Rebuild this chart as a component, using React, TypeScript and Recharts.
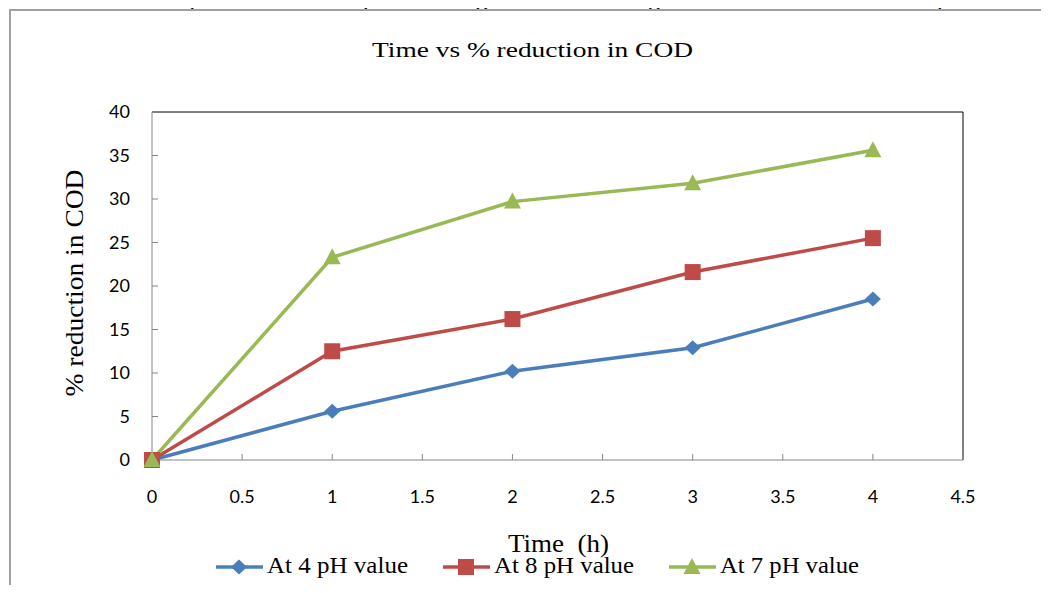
import React from "react";
import {
  LineChart,
  Line,
  XAxis,
  YAxis,
  ReferenceLine,
  Legend,
  Label,
} from "recharts";

const times = [0, 1, 2, 3, 4];
const ph4 = [0, 5.6, 10.2, 12.9, 18.5];
const ph8 = [0, 12.5, 16.2, 21.6, 25.5];
const ph7 = [0, 23.3, 29.7, 31.8, 35.6];
const xTicks = [0, 0.5, 1, 1.5, 2, 2.5, 3, 3.5, 4, 4.5];
const yTicks = [0, 5, 10, 15, 20, 25, 30, 35, 40];

const data = times.map((t, i) => ({ t, ph4: ph4[i], ph8: ph8[i], ph7: ph7[i] }));

const serif = "'Liberation Serif', 'DejaVu Serif', 'Noto Serif', 'Times New Roman', serif";
const sans = "Lato, 'Open Sans', sans-serif";

const BLUE = "#4a7ebb";
const RED = "#be4b48";
const GREEN = "#98b954";

const Diamond = (p: any) => {
  const { cx, cy, fill } = p;
  if (cx == null || cy == null) return null;
  return <polygon points={`${cx},${cy - 7.5} ${cx + 8},${cy} ${cx},${cy + 7.5} ${cx - 8},${cy}`} fill={fill} />;
};
const Square = (p: any) => {
  const { cx, cy, fill } = p;
  if (cx == null || cy == null) return null;
  return <rect x={cx - 8} y={cy - 8} width={16} height={16} fill={fill} />;
};
const Triangle = (p: any) => {
  const { cx, cy, fill } = p;
  if (cx == null || cy == null) return null;
  return <polygon points={`${cx},${cy - 9} ${cx + 8.5},${cy + 7} ${cx - 8.5},${cy + 7}`} fill={fill} />;
};

const legendItems = [
  { label: "At 4 pH value", color: BLUE, Shape: Diamond, x: 216, w: 141 },
  { label: "At 8 pH value", color: RED, Shape: Square, x: 443, w: 140 },
  { label: "At 7 pH value", color: GREEN, Shape: Triangle, x: 669, w: 139 },
];

const renderLegend = () => (
  <svg width={1049} height={30} style={{ display: "block" }}>
    {legendItems.map((it) => (
      <g key={it.label}>
        <line x1={it.x} x2={it.x + 47} y1={15} y2={15} stroke={it.color} strokeWidth={3.5} />
        <it.Shape cx={it.x + 23} cy={15} fill={it.color} />
        <text
          x={it.x + 51}
          y={21}
          textLength={it.w}
          lengthAdjust="spacingAndGlyphs"
          style={{ fontFamily: serif, fontSize: 23 }}
          fill="#000"
        >
          {it.label}
        </text>
      </g>
    ))}
  </svg>
);

export default function App() {
  return (
    <div
      style={{
        position: "relative",
        width: 1049,
        height: 593,
        margin: -8,
        overflow: "hidden",
        background: "#fff",
      }}
    >
      <svg width={1049} height={593} style={{ position: "absolute", left: 0, top: 0 }}>
        <text
          x={-3}
          y={5}
          textLength={1056}
          lengthAdjust="spacingAndGlyphs"
          style={{ fontFamily: serif, fontSize: 20 }}
          fill="#000"
        >
          ain. But when the pH value of sample is changed the following results where obtained at pressure of
        </text>
        <rect x={10} y={10} width={1100} height={700} fill="none" stroke="#a0a0a0" strokeWidth={2} />
        <text
          x={372}
          y={57}
          textLength={321}
          lengthAdjust="spacingAndGlyphs"
          style={{ fontFamily: serif, fontSize: 21 }}
          fill="#000"
        >
          Time vs % reduction in COD
        </text>
      </svg>
      <div style={{ position: "absolute", left: 0, top: 0 }}>
        <LineChart
          width={1049}
          height={593}
          data={data}
          margin={{ top: 112, right: 86, bottom: 73, left: 62 }}
        >
          <XAxis
            dataKey="t"
            type="number"
            domain={[0, 4.5]}
            ticks={xTicks}
            height={60}
            tickSize={-6}
            tickMargin={36}
            stroke="#868686"
            tick={{ fontFamily: sans, fontSize: 18, fill: "#000" }}
          >
            <Label
              content={() => (
                <text
                  x={508}
                  y={552}
                  textLength={101}
                  lengthAdjust="spacingAndGlyphs"
                  style={{ fontFamily: serif, fontSize: 25, whiteSpace: "pre" }}
                  fill="#000"
                >
                  Time  (h)
                </text>
              )}
            />
          </XAxis>
          <YAxis
            type="number"
            domain={[0, 40]}
            ticks={yTicks}
            width={90}
            tickSize={-6}
            tickMargin={28}
            stroke="#868686"
            tick={{ fontFamily: sans, fontSize: 18, fill: "#000" }}
          >
            <Label
              content={() => {
                const cx = 83;
                const cy = 283;
                return (
                  <text
                    x={cx}
                    y={cy}
                    transform={`rotate(-90 ${cx} ${cy})`}
                    textAnchor="middle"
                    textLength={227}
                    lengthAdjust="spacingAndGlyphs"
                    style={{ fontFamily: serif, fontSize: 25 }}
                    fill="#000"
                  >
                    % reduction in COD
                  </text>
                );
              }}
            />
          </YAxis>
          <ReferenceLine y={40} stroke="#000" strokeWidth={1} />
          <ReferenceLine x={4.5} stroke="#000" strokeWidth={1} />
          <Legend
            layout="horizontal"
            verticalAlign="middle"
            align="center"
            content={renderLegend}
            wrapperStyle={{ top: 552, left: 0, width: 1049, height: 30 }}
          />
          <Line
            dataKey="ph4"
            name="At 4 pH value"
            stroke={BLUE}
            strokeWidth={3.5}
            dot={<Diamond fill={BLUE} />}
            isAnimationActive={false}
          />
          <Line
            dataKey="ph8"
            name="At 8 pH value"
            stroke={RED}
            strokeWidth={3.5}
            dot={<Square fill={RED} />}
            isAnimationActive={false}
          />
          <Line
            dataKey="ph7"
            name="At 7 pH value"
            stroke={GREEN}
            strokeWidth={3.5}
            dot={<Triangle fill={GREEN} />}
            isAnimationActive={false}
          />
        </LineChart>
      </div>
    </div>
  );
}
